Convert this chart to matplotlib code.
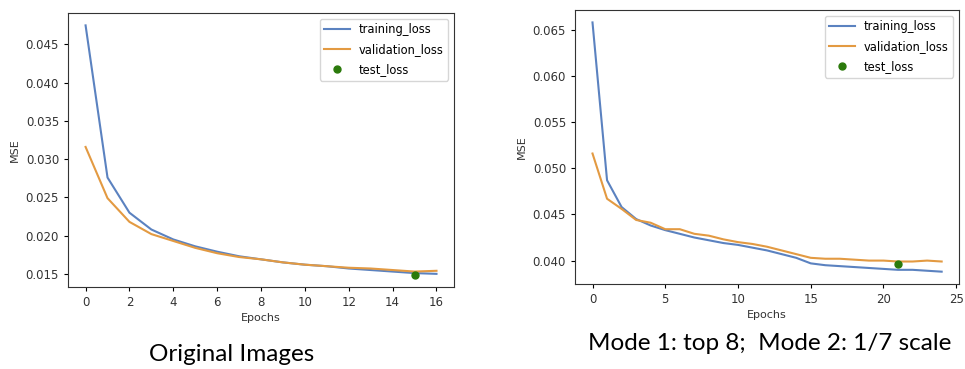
import matplotlib.pyplot as plt

# left panel: original images
orig_train = [0.0475, 0.0276, 0.0230, 0.0208, 0.0195, 0.0186, 0.0179, 0.0173, 0.0169,
              0.0165, 0.0162, 0.0160, 0.0157, 0.0155, 0.0153, 0.0151, 0.0150]
orig_val = [0.0316, 0.0249, 0.0218, 0.0202, 0.0193, 0.0184, 0.0177, 0.0172, 0.0169,
            0.0165, 0.0162, 0.0160, 0.0158, 0.0157, 0.0155, 0.0153, 0.0154]
orig_test_epoch = 15
orig_test = 0.0149

# right panel: mode 1 / mode 2
mode_train = [0.0658, 0.0487, 0.0458, 0.0445, 0.0438, 0.0433, 0.0429, 0.0425, 0.0422,
              0.0419, 0.0417, 0.0414, 0.0411, 0.0407, 0.0403, 0.0397, 0.0395, 0.0394,
              0.0393, 0.0392, 0.0391, 0.0390, 0.0390, 0.0389, 0.0388]
mode_val = [0.0516, 0.0467, 0.0456, 0.0444, 0.0441, 0.0434, 0.0434, 0.0429, 0.0427,
            0.0423, 0.0420, 0.0418, 0.0415, 0.0411, 0.0407, 0.0403, 0.0402, 0.0402,
            0.0401, 0.0400, 0.0400, 0.0399, 0.0399, 0.0400, 0.0399]
mode_test_epoch = 21
mode_test = 0.0396

captions = ["Original Images", "Mode 1: top 8;  Mode 2: 1/7 scale"]

BLUE = '#5b82c0'
ORANGE = '#e39a42'
GREEN = '#2b7a0b'

fig = plt.figure(figsize=(9.65, 3.69), dpi=100)
ax1 = fig.add_axes([0.0705, 0.222, 0.400, 0.743])
ax2 = fig.add_axes([0.5959, 0.230, 0.398, 0.743])


def draw(ax, train, val, test_x, test_y):
    ax.plot(range(len(train)), train, color=BLUE, lw=1.5, label='training_loss')
    ax.plot(range(len(val)), val, color=ORANGE, lw=1.5, label='validation_loss')
    ax.plot([test_x], [test_y], 'o', color=GREEN, ms=5, label='test_loss')
    ax.set_xlabel('Epochs', fontsize=8, color='#333333', labelpad=3)
    ax.set_ylabel('MSE', fontsize=8, color='#333333')
    ax.tick_params(labelsize=8.5, labelcolor='#333333', length=3)
    for s in ax.spines.values():
        s.set_color('#333333')
    ax.legend(loc='upper right', fontsize=8.3, framealpha=0.8, handlelength=2.2,
              labelspacing=0.6)


draw(ax1, orig_train, orig_val, orig_test_epoch, orig_test)
draw(ax2, mode_train, mode_val, mode_test_epoch, mode_test)
ax1.set_yticks([0.015, 0.020, 0.025, 0.030, 0.035, 0.040, 0.045])

fig.text(0.240, 0.038, captions[0], fontsize=17.5, family='Lato', ha='center', va='center')
fig.text(0.798, 0.068, captions[1], fontsize=17.5, family='Lato', ha='center', va='center')

fig.savefig('out.png', dpi=100)
